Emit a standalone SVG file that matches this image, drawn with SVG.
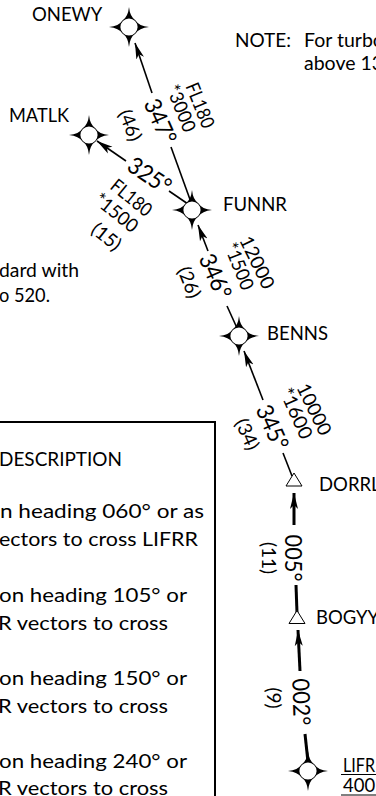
<svg xmlns="http://www.w3.org/2000/svg" width="376" height="796" viewBox="0 0 376 796">
<style>
text{font-family:"Lato","Liberation Sans",sans-serif;fill:#000}
.n{font-size:18.5px}
.d{font-size:19.5px}
.r{font-size:19px;text-anchor:middle;dominant-baseline:central}
.c{font-size:23.5px;text-anchor:middle;dominant-baseline:central}
.l{fill:none;stroke:#000;stroke-width:1.6}
.t{fill:none;stroke:#000;stroke-width:3}
.a{marker-end:url(#ah)}
</style>
<defs>
<marker id="ah" markerUnits="userSpaceOnUse" markerWidth="18" markerHeight="12" refX="16" refY="5" orient="auto">
<path d="M16 5L0 1L4 5L0 9Z" fill="#000"/>
</marker>
<g id="star">
<path d="M0 -20Q1 -10 6.6 -6.6Q10 -1 20 0Q10 1 6.6 6.6Q1 10 0 20Q-1 10 -6.6 6.6Q-10 1 -20 0Q-10 -1 -6.6 -6.6Q-1 -10 0 -20Z" fill="#000"/>
<circle r="8.6" fill="#fff"/>
</g>
<path id="tri" d="M0 -6.5L8 6.5H-8Z" fill="#fff" stroke="#000" stroke-width="1"/>
</defs>
<rect width="376" height="796" fill="#fff"/>
<g id="connectors">
<path class="l a" d="M152 93L135 43"/>
<path class="l" d="M171 147L192 205"/>
<path class="l a" d="M126 161L97 141"/>
<path class="l" d="M169 191L188 204"/>
<path class="l a" d="M208 251L198 225"/>
<path class="l" d="M227 306L237 328"/>
<path class="l a" d="M263 400L244 351"/>
<path class="l" d="M283 453L292 476"/>
<path class="t a" d="M294 525V493"/>
<path class="t" d="M296 585L297 613"/>
<path class="t a" d="M300 671L298 630"/>
<path class="t" d="M305 734L308 762"/>
</g>
<g id="ONEWY"><use href="#star" x="129" y="27"/><text class="n" x="32" y="21">ONEWY</text></g>
<g id="MATLK"><use href="#star" x="89" y="135"/><text class="n" x="9" y="122" textLength="60" lengthAdjust="spacingAndGlyphs">MATLK</text></g>
<g id="FUNNR"><use href="#star" x="192" y="210"/><text class="n" x="223" y="211">FUNNR</text></g>
<g id="BENNS"><use href="#star" x="239" y="336"/><text class="n" x="267" y="340">BENNS</text></g>
<g id="DORRL"><use href="#tri" x="294" y="479.5"/><text class="n" x="319" y="491">DORRL</text></g>
<g id="BOGYY"><use href="#tri" x="297" y="617"/><text class="n" x="316" y="624">BOGYY</text></g>
<g id="LIFRR"><use href="#star" x="308" y="771"/><text class="n" x="343" y="772" textLength="32" lengthAdjust="spacingAndGlyphs">LIFR</text><path d="M341 774.5H376M341 795H376" stroke="#000" stroke-width="1"/><text class="n" x="343" y="792">400</text></g>
<g id="labels">
<text class="c" transform="translate(161 121) rotate(66)" textLength="47" lengthAdjust="spacingAndGlyphs">347°</text>
<text class="r" transform="translate(131 125) rotate(68)">(46)</text>
<text class="r" transform="translate(182 108) rotate(68)" textLength="49" lengthAdjust="spacingAndGlyphs">*3000</text>
<text class="r" transform="translate(201 105) rotate(68)" textLength="47" lengthAdjust="spacingAndGlyphs">FL180</text>
<text class="c" transform="translate(150 175) rotate(34)" textLength="47" lengthAdjust="spacingAndGlyphs">325°</text>
<text class="r" transform="translate(132 197) rotate(39)" textLength="47" lengthAdjust="spacingAndGlyphs">FL180</text>
<text class="r" transform="translate(117 212) rotate(39)" textLength="50" lengthAdjust="spacingAndGlyphs">*1500</text>
<text class="r" transform="translate(107 236) rotate(39)">(15)</text>
<text class="c" transform="translate(216 276) rotate(66)" textLength="47" lengthAdjust="spacingAndGlyphs">346°</text>
<text class="r" transform="translate(190 282) rotate(68)">(26)</text>
<text class="r" transform="translate(240 266) rotate(68)" textLength="49" lengthAdjust="spacingAndGlyphs">*1500</text>
<text class="r" transform="translate(258 262) rotate(64)" textLength="56" lengthAdjust="spacingAndGlyphs">12000</text>
<text class="c" transform="translate(273 427) rotate(66)" textLength="47" lengthAdjust="spacingAndGlyphs">345°</text>
<text class="r" transform="translate(248 434) rotate(66)">(34)</text>
<text class="r" transform="translate(297 413) rotate(66)" textLength="54" lengthAdjust="spacingAndGlyphs">*1600</text>
<text class="r" transform="translate(315 409) rotate(64)" textLength="55" lengthAdjust="spacingAndGlyphs">10000</text>
<text class="c" transform="translate(294 558) rotate(90)" textLength="47" lengthAdjust="spacingAndGlyphs">005°</text>
<text class="r" transform="translate(269 558) rotate(90)">(11)</text>
<text class="c" transform="translate(302 702) rotate(88)" textLength="47" lengthAdjust="spacingAndGlyphs">002°</text>
<text class="r" transform="translate(274 698) rotate(90)">(9)</text>
</g>
<g id="note">
<text class="d" x="235" y="47" textLength="56" lengthAdjust="spacingAndGlyphs">NOTE:</text>
<text class="d" x="304" y="47">For turbo</text>
<text class="d" x="304" y="70">above 13</text>
<text class="d" x="-1" y="277" textLength="80" lengthAdjust="spacingAndGlyphs">dard with</text>
<text class="d" x="-1" y="302" textLength="51" lengthAdjust="spacingAndGlyphs">o 520.</text>
</g>
<g id="table">
<path d="M-2 422H215V798" fill="none" stroke="#000" stroke-width="2"/>
<text class="d" x="-1" y="466" textLength="123" lengthAdjust="spacingAndGlyphs">DESCRIPTION</text>
<text class="d" x="0" y="518" textLength="204" lengthAdjust="spacingAndGlyphs">n heading 060° or as</text>
<text class="d" x="-1" y="546" textLength="199" lengthAdjust="spacingAndGlyphs">ectors to cross LIFRR</text>
<text class="d" x="-1" y="602" textLength="188" lengthAdjust="spacingAndGlyphs">on heading 105° or</text>
<text class="d" x="-2" y="630" textLength="170" lengthAdjust="spacingAndGlyphs">R vectors to cross</text>
<text class="d" x="-1" y="685" textLength="188" lengthAdjust="spacingAndGlyphs">on heading 150° or</text>
<text class="d" x="-2" y="713" textLength="170" lengthAdjust="spacingAndGlyphs">R vectors to cross</text>
<text class="d" x="-1" y="768" textLength="188" lengthAdjust="spacingAndGlyphs">on heading 240° or</text>
<text class="d" x="-2" y="795" textLength="170" lengthAdjust="spacingAndGlyphs">R vectors to cross</text>
</g>
</svg>
